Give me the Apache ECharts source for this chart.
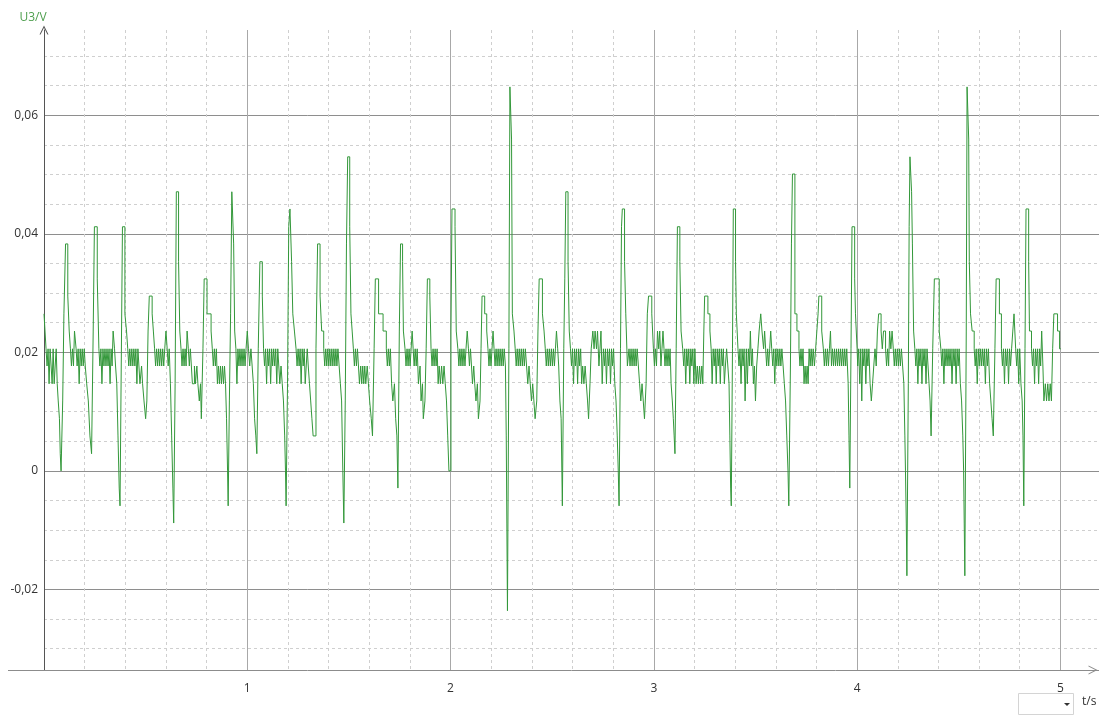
<!DOCTYPE html>
<html>
<head>
<meta charset="utf-8">
<script src="https://cdn.jsdelivr.net/npm/echarts@6/dist/echarts.min.js"></script>
<style>html,body{margin:0;padding:0;background:#fff;}#c{width:1099px;height:716px;}</style>
</head>
<body>
<div id="c"></div>
<script>
// U3 (V) samples: [t (s), U3 (V)], one array per second
const samples0 = [[0.000,0.0265],[0.005,0.0236],[0.010,0.0206],[0.015,0.0177],[0.020,0.0206],[0.025,0.0147],[0.030,0.0206],[0.035,0.0177],[0.040,0.0147],[0.045,0.0206],[0.050,0.0147],[0.055,0.0177],[0.060,0.0206],[0.065,0.0147],[0.070,0.0118],[0.076,0.0088],[0.080,0.0029],[0.084,0.0],[0.092,0.0118],[0.098,0.0265],[0.106,0.0383],[0.117,0.0295],[0.124,0.0236],[0.130,0.0206],[0.135,0.0177],[0.140,0.0206],[0.145,0.0177],[0.150,0.0236],[0.158,0.0206],[0.163,0.0177],[0.168,0.0206],[0.173,0.0147],[0.178,0.0206],[0.183,0.0177],[0.188,0.0206],[0.193,0.0177],[0.198,0.0206],[0.203,0.0177],[0.210,0.0147],[0.218,0.0118],[0.226,0.0059],[0.234,0.0029],[0.242,0.0236],[0.248,0.0412],[0.262,0.0324],[0.270,0.0206],[0.275,0.0177],[0.280,0.0206],[0.285,0.0147],[0.290,0.0206],[0.295,0.0177],
[0.300,0.0206],[0.305,0.0177],[0.310,0.0206],[0.315,0.0177],[0.320,0.0206],[0.325,0.0147],[0.330,0.0206],[0.335,0.0177],[0.340,0.0236],[0.347,0.0206],[0.352,0.0177],[0.358,0.0147],[0.364,0.0059],[0.370,-0.0029],[0.374,-0.0059],[0.380,0.0177],[0.386,0.0412],[0.398,0.0265],[0.406,0.0236],[0.412,0.0206],[0.417,0.0177],[0.422,0.0206],[0.427,0.0177],[0.432,0.0206],[0.437,0.0177],[0.442,0.0206],[0.447,0.0177],[0.452,0.0206],[0.457,0.0147],[0.462,0.0206],[0.467,0.0177],
[0.472,0.0147],[0.480,0.0177],[0.485,0.0147],[0.492,0.0118],[0.500,0.0088],[0.506,0.0118],[0.512,0.0236],[0.518,0.0295],[0.532,0.0265],[0.538,0.0236],[0.544,0.0206],[0.549,0.0177],[0.554,0.0206],[0.559,0.0177],[0.564,0.0206],[0.569,0.0177],[0.574,0.0206],[0.579,0.0177],[0.584,0.0206],[0.589,0.0177],[0.594,0.0206],[0.600,0.0236],[0.606,0.0206],[0.611,0.0177],[0.616,0.0206],[0.622,0.0147],[0.628,0.0059],[0.634,-0.0029],[0.638,-0.0088],[0.645,0.0147],[0.651,0.0471],[0.662,0.0353],[0.668,0.0236],[0.674,0.0206],[0.679,0.0177],[0.684,0.0206],[0.689,0.0177],[0.694,0.0206],[0.699,0.0177],[0.704,0.0236],[0.710,0.0206],[0.715,0.0177],[0.720,0.0206],[0.725,0.0177],[0.730,0.0147],[0.740,0.0177],[0.745,0.0147],[0.752,0.0177],[0.757,0.0147],[0.764,0.0118],[0.770,0.0147],[0.774,0.0088],[0.782,0.0206],[0.788,0.0324],[0.802,0.0265],
[0.822,0.0236],[0.828,0.0206],[0.833,0.0177],[0.838,0.0206],[0.843,0.0177],[0.848,0.0206],[0.853,0.0147],[0.858,0.0177],[0.863,0.0147],[0.868,0.0177],[0.873,0.0147],[0.878,0.0177],[0.883,0.0147],[0.888,0.0177],[0.893,0.0147],[0.898,0.0088],[0.903,0.0],[0.906,-0.0059],[0.912,0.0118],[0.918,0.0265],[0.924,0.0471],[0.933,0.0383],[0.938,0.0236],[0.944,0.0206],[0.949,0.0147],[0.954,0.0206],[0.959,0.0177],[0.964,0.0206],[0.969,0.0177],[0.974,0.0206],[0.979,0.0177],[0.984,0.0206],[0.989,0.0177],[0.994,0.0206]];
const samples1 = [[1.000,0.0236],[1.006,0.0206],[1.012,0.0177],[1.018,0.0206],[1.024,0.0177],[1.030,0.0147],[1.036,0.0088],[1.042,0.0059],[1.047,0.0029],[1.054,0.0206],[1.062,0.0353],[1.074,0.0295],[1.080,0.0206],
[1.085,0.0177],[1.090,0.0206],[1.095,0.0147],[1.100,0.0206],[1.105,0.0177],[1.110,0.0206],[1.115,0.0147],[1.120,0.0206],[1.125,0.0177],[1.130,0.0206],[1.135,0.0177],[1.140,0.0206],[1.145,0.0147],[1.150,0.0206],[1.155,0.0177],[1.160,0.0147],[1.166,0.0177],[1.172,0.0147],[1.178,0.0118],[1.184,0.0059],[1.188,0.0],[1.191,-0.0059],[1.198,0.0147],[1.204,0.0412],[1.210,0.0442],[1.218,0.0353],[1.224,0.0265],[1.232,0.0236],[1.240,0.0206],[1.245,0.0177],[1.250,0.0206],[1.255,0.0177],[1.260,0.0206],[1.265,0.0147],[1.270,0.0206],[1.275,0.0177],[1.280,0.0206],[1.285,0.0147],[1.290,0.0177],[1.295,0.0206],[1.300,0.0177],[1.306,0.0147],[1.312,0.0118],[1.318,0.0088],[1.324,0.0059],[1.338,0.0206],[1.346,0.0383],[1.358,0.0295],[1.366,0.0236],
[1.376,0.0206],[1.381,0.0177],[1.386,0.0206],[1.391,0.0177],[1.396,0.0206],[1.401,0.0177],[1.406,0.0206],[1.411,0.0177],[1.416,0.0206],[1.421,0.0177],[1.426,0.0206],[1.431,0.0177],[1.436,0.0206],[1.441,0.0177],[1.446,0.0206],[1.452,0.0177],[1.458,0.0147],[1.464,0.0118],[1.470,0.0],[1.475,-0.0088],[1.482,0.0118],[1.488,0.0383],[1.494,0.053],[1.504,0.0412],[1.510,0.0265],[1.516,0.0236],[1.522,0.0206],[1.527,0.0177],[1.532,0.0206],[1.537,0.0177],[1.542,0.0206],[1.547,0.0177],[1.552,0.0147],[1.558,0.0177],[1.563,0.0147],[1.568,0.0177],[1.573,0.0147],[1.578,0.0177],[1.583,0.0147],[1.590,0.0177],[1.596,0.0147],[1.602,0.0118],[1.610,0.0088],[1.616,0.0059],[1.624,0.0206],[1.630,0.0324],[1.646,0.0265],[1.668,0.0236],
[1.684,0.0206],[1.689,0.0177],[1.694,0.0206],[1.699,0.0177],[1.704,0.0206],[1.710,0.0147],[1.716,0.0118],[1.724,0.0147],[1.730,0.0088],[1.736,0.0059],[1.741,-0.0029],[1.748,0.0236],[1.754,0.0383],[1.764,0.0353],[1.768,0.0236],[1.776,0.0206],[1.781,0.0177],[1.786,0.0206],[1.791,0.0177],[1.796,0.0206],[1.801,0.0177],[1.806,0.0206],[1.811,0.0236],[1.816,0.0206],[1.821,0.0177],[1.826,0.0206],[1.831,0.0177],[1.836,0.0206],[1.842,0.0147],[1.850,0.0177],[1.855,0.0118],[1.862,0.0147],[1.866,0.0088],[1.874,0.0118],[1.880,0.0206],[1.886,0.0324],[1.898,0.0295],[1.904,0.0206],[1.909,0.0177],[1.914,0.0206],[1.919,0.0177],[1.924,0.0206],[1.929,0.0177],[1.934,0.0206],[1.939,0.0147],[1.944,0.0177],[1.950,0.0147],[1.956,0.0177],[1.962,0.0147],[1.968,0.0177],[1.974,0.0147],[1.980,0.0118],[1.986,0.0059],[1.992,0.0]];
const samples2 = [[2.002,0.0236],[2.007,0.0442],[2.022,0.0412],[2.028,0.0236],[2.036,0.0206],
[2.041,0.0177],[2.046,0.0206],[2.051,0.0177],[2.056,0.0206],[2.061,0.0177],[2.066,0.0206],[2.071,0.0177],[2.076,0.0206],[2.082,0.0236],[2.088,0.0206],[2.093,0.0177],[2.098,0.0206],[2.103,0.0177],[2.108,0.0147],[2.114,0.0177],[2.119,0.0147],[2.125,0.0118],[2.132,0.0147],[2.137,0.0088],[2.145,0.0118],[2.150,0.0206],[2.155,0.0295],[2.168,0.0265],[2.178,0.0236],[2.184,0.0206],[2.189,0.0177],[2.194,0.0206],[2.199,0.0177],[2.204,0.0206],[2.209,0.0236],[2.214,0.0206],[2.219,0.0177],[2.224,0.0206],[2.229,0.0177],[2.234,0.0206],[2.239,0.0177],[2.244,0.0206],[2.249,0.0177],[2.254,0.0206],[2.259,0.0177],[2.264,0.0206],[2.270,0.0177],[2.274,0.0059],[2.277,-0.0088],[2.280,-0.0236],[2.287,0.0206],[2.292,0.0648],[2.300,0.056],[2.304,0.0265],[2.312,0.0236],[2.318,0.0206],
[2.323,0.0177],[2.328,0.0206],[2.333,0.0177],[2.338,0.0206],[2.343,0.0177],[2.348,0.0206],[2.353,0.0177],[2.358,0.0206],[2.363,0.0177],[2.368,0.0206],[2.374,0.0177],[2.380,0.0147],[2.386,0.0177],[2.392,0.0147],[2.398,0.0118],[2.404,0.0147],[2.410,0.0118],[2.416,0.0088],[2.424,0.0118],[2.430,0.0236],[2.436,0.0324],[2.452,0.0265],[2.460,0.0236],[2.466,0.0206],[2.471,0.0177],[2.476,0.0206],[2.481,0.0177],[2.486,0.0206],[2.491,0.0177],[2.496,0.0206],[2.501,0.0177],[2.506,0.0206],[2.511,0.0177],[2.516,0.0206],[2.521,0.0236],[2.527,0.0206],[2.532,0.0177],[2.538,0.0118],[2.544,0.0088],[2.550,-0.0059],[2.557,0.0206],[2.562,0.0324],[2.567,0.0471],[2.578,0.0353],[2.584,0.0236],[2.590,0.0206],
[2.595,0.0177],[2.600,0.0206],[2.605,0.0147],[2.610,0.0206],[2.615,0.0177],[2.620,0.0206],[2.625,0.0147],[2.630,0.0206],[2.635,0.0177],[2.640,0.0206],[2.645,0.0147],[2.650,0.0177],[2.656,0.0147],[2.662,0.0177],[2.668,0.0147],[2.674,0.0118],[2.679,0.0088],[2.686,0.0147],[2.692,0.0206],[2.700,0.0236],[2.706,0.0206],[2.711,0.0236],[2.718,0.0206],[2.723,0.0236],[2.730,0.0177],[2.735,0.0206],[2.740,0.0236],[2.746,0.0147],[2.752,0.0206],[2.757,0.0177],[2.762,0.0206],[2.767,0.0147],[2.772,0.0206],[2.777,0.0177],[2.782,0.0206],[2.787,0.0147],[2.792,0.0206],[2.797,0.0177],[2.802,0.0206],[2.808,0.0147],[2.814,0.0118],[2.820,0.0059],[2.825,0.0],[2.829,-0.0059],[2.836,0.0206],[2.841,0.0412],[2.845,0.0442],[2.856,0.0353],[2.862,0.0265],[2.870,0.0177],[2.878,0.0206],
[2.883,0.0177],[2.888,0.0206],[2.893,0.0177],[2.898,0.0206],[2.903,0.0177],[2.908,0.0206],[2.913,0.0177],[2.918,0.0206],[2.924,0.0177],[2.930,0.0147],[2.936,0.0118],[2.942,0.0147],[2.948,0.0118],[2.954,0.0088],[2.962,0.0147],[2.968,0.0265],[2.974,0.0295],[2.990,0.0265],[2.998,0.0206]];
const samples3 = [[3.003,0.0177],[3.008,0.0206],[3.013,0.0177],[3.018,0.0236],[3.024,0.0206],[3.029,0.0236],[3.035,0.0177],[3.040,0.0206],[3.045,0.0236],[3.050,0.0206],[3.055,0.0177],[3.060,0.0206],[3.065,0.0177],[3.070,0.0206],[3.075,0.0177],[3.080,0.0206],[3.085,0.0147],[3.091,0.0118],[3.096,0.0088],[3.100,0.0059],[3.104,0.0029],[3.110,0.0206],[3.116,0.0412],[3.128,0.0353],[3.134,0.0236],[3.142,0.0206],
[3.147,0.0177],[3.152,0.0206],[3.157,0.0147],[3.162,0.0206],[3.167,0.0177],[3.172,0.0206],[3.177,0.0147],[3.182,0.0206],[3.187,0.0177],[3.192,0.0206],[3.197,0.0147],[3.202,0.0206],[3.208,0.0147],[3.214,0.0177],[3.219,0.0147],[3.225,0.0177],[3.230,0.0147],[3.236,0.0177],[3.241,0.0147],[3.246,0.0236],[3.250,0.0295],[3.266,0.0265],[3.276,0.0236],[3.282,0.0206],[3.287,0.0147],[3.292,0.0206],[3.297,0.0177],[3.302,0.0206],[3.307,0.0147],[3.312,0.0206],[3.317,0.0177],[3.322,0.0206],[3.327,0.0147],[3.332,0.0206],[3.337,0.0177],[3.342,0.0206],[3.347,0.0147],[3.352,0.0177],[3.358,0.0206],[3.364,0.0177],[3.370,0.0147],[3.374,0.0059],[3.378,-0.0029],[3.381,-0.0059],[3.387,0.0206],[3.391,0.0442],[3.402,0.0353],[3.406,0.0265],[3.414,0.0206],
[3.419,0.0177],[3.424,0.0206],[3.429,0.0147],[3.434,0.0206],[3.439,0.0177],[3.444,0.0206],[3.449,0.0118],[3.455,0.0206],[3.460,0.0147],[3.465,0.0206],[3.470,0.0177],[3.475,0.0236],[3.480,0.0177],[3.485,0.0206],[3.490,0.0147],[3.495,0.0177],[3.500,0.0118],[3.506,0.0177],[3.512,0.0206],[3.518,0.0236],[3.526,0.0265],[3.532,0.0236],[3.540,0.0206],[3.545,0.0236],[3.550,0.0206],[3.555,0.0177],[3.560,0.0206],[3.565,0.0177],[3.570,0.0206],[3.575,0.0236],[3.580,0.0206],[3.585,0.0177],[3.590,0.0206],[3.595,0.0147],[3.600,0.0206],[3.605,0.0177],[3.610,0.0206],[3.615,0.0177],[3.620,0.0206],[3.625,0.0177],[3.630,0.0206],[3.636,0.0177],[3.642,0.0147],[3.648,0.0118],[3.654,0.0059],[3.660,0.0],[3.664,-0.0059],[3.672,0.0177],[3.677,0.0383],[3.682,0.0501],[3.694,0.0265],[3.704,0.0236],[3.714,0.0206],
[3.719,0.0177],[3.724,0.0206],[3.729,0.0177],[3.734,0.0206],[3.739,0.0147],[3.744,0.0177],[3.749,0.0147],[3.754,0.0177],[3.759,0.0147],[3.764,0.0206],[3.769,0.0177],[3.774,0.0206],[3.779,0.0177],[3.784,0.0206],[3.790,0.0177],[3.796,0.0206],[3.802,0.0236],[3.808,0.0265],[3.812,0.0295],[3.826,0.0236],[3.834,0.0206],[3.839,0.0177],[3.844,0.0206],[3.849,0.0177],[3.854,0.0206],[3.859,0.0177],[3.864,0.0206],[3.869,0.0236],[3.874,0.0177],[3.879,0.0206],[3.884,0.0177],[3.889,0.0206],[3.894,0.0177],[3.899,0.0206],[3.904,0.0177],[3.909,0.0206],[3.914,0.0177],[3.919,0.0206],[3.924,0.0177],[3.929,0.0206],[3.934,0.0177],[3.939,0.0206],[3.944,0.0177],[3.949,0.0206],[3.956,0.0147],[3.960,0.0059],[3.964,-0.0029],[3.970,0.0206],[3.975,0.0412],[3.988,0.0324],[3.992,0.0265]];
const samples4 = [[4.000,0.0206],[4.003,0.0177],[4.008,0.0206],[4.013,0.0147],[4.018,0.0206],[4.023,0.0118],[4.028,0.0206],[4.033,0.0177],[4.038,0.0206],[4.043,0.0147],[4.048,0.0206],[4.053,0.0177],[4.058,0.0206],[4.064,0.0147],[4.070,0.0118],[4.076,0.0147],[4.082,0.0177],[4.088,0.0206],[4.094,0.0177],[4.100,0.0236],[4.106,0.0265],[4.118,0.0236],[4.124,0.0206],[4.130,0.0236],[4.140,0.0206],[4.145,0.0177],[4.150,0.0206],[4.155,0.0177],[4.160,0.0236],[4.166,0.0206],[4.172,0.0236],[4.178,0.0206],[4.183,0.0177],[4.188,0.0206],[4.193,0.0177],[4.198,0.0206],[4.203,0.0177],[4.208,0.0206],[4.213,0.0177],[4.218,0.0206],[4.224,0.0177],[4.230,0.0147],[4.235,0.0059],[4.238,0.0],[4.242,-0.0088],[4.245,-0.0177],[4.252,0.0147],[4.256,0.0412],[4.260,0.053],[4.268,0.0471],[4.272,0.0383],[4.278,0.0236],[4.284,0.0206],
[4.289,0.0177],[4.294,0.0206],[4.299,0.0147],[4.304,0.0206],[4.309,0.0177],[4.314,0.0206],[4.319,0.0147],[4.324,0.0206],[4.329,0.0177],[4.334,0.0206],[4.339,0.0147],[4.344,0.0206],[4.349,0.0177],[4.354,0.0147],[4.359,0.0118],[4.364,0.0059],[4.372,0.0206],[4.380,0.0324],[4.404,0.0236],[4.412,0.0206],[4.417,0.0177],[4.422,0.0206],[4.427,0.0147],[4.432,0.0206],[4.437,0.0177],[4.442,0.0206],[4.447,0.0177],[4.452,0.0206],[4.457,0.0177],[4.462,0.0206],[4.467,0.0147],[4.472,0.0206],[4.477,0.0177],[4.482,0.0206],[4.487,0.0147],[4.492,0.0206],[4.497,0.0177],[4.502,0.0206],[4.508,0.0147],[4.514,0.0118],[4.520,0.0059],[4.524,0.0],[4.527,-0.0088],[4.530,-0.0177],[4.537,0.0236],[4.541,0.0648],[4.549,0.056],[4.552,0.0353],[4.558,0.0265],[4.566,0.0236],[4.576,0.0206],
[4.581,0.0177],[4.586,0.0206],[4.591,0.0147],[4.596,0.0206],[4.601,0.0177],[4.606,0.0206],[4.611,0.0177],[4.616,0.0206],[4.621,0.0177],[4.626,0.0206],[4.631,0.0147],[4.636,0.0206],[4.641,0.0177],[4.646,0.0206],[4.652,0.0147],[4.658,0.0118],[4.664,0.0088],[4.670,0.0059],[4.678,0.0206],[4.684,0.0324],[4.700,0.0265],[4.710,0.0206],[4.715,0.0177],[4.720,0.0206],[4.725,0.0147],[4.730,0.0206],[4.735,0.0177],[4.740,0.0206],[4.745,0.0147],[4.750,0.0206],[4.755,0.0177],[4.760,0.0206],[4.766,0.0236],[4.772,0.0265],[4.780,0.0206],[4.785,0.0177],[4.790,0.0206],[4.795,0.0147],[4.800,0.0206],[4.806,0.0147],[4.812,0.0118],[4.816,0.0059],[4.820,-0.0059],[4.826,0.0206],[4.831,0.0442],[4.844,0.0353],[4.848,0.0236],[4.858,0.0206],
[4.863,0.0177],[4.868,0.0206],[4.873,0.0147],[4.878,0.0206],[4.883,0.0177],[4.888,0.0206],[4.893,0.0147],[4.898,0.0206],[4.903,0.0177],[4.908,0.0236],[4.914,0.0177],[4.919,0.0118],[4.926,0.0147],[4.932,0.0118],[4.938,0.0147],[4.944,0.0118],[4.950,0.0147],[4.956,0.0118],[4.962,0.0206],[4.968,0.0265],[4.986,0.0236],[4.996,0.0206],[5.002,0.0206]];

// Axis ranges and tick values
const xRange = [0, 5.19];
const yRange = [-0.0336, 0.0744];
const xMajorTicks = [1, 2, 3, 4, 5];
const xMinorTicks = [0.2, 0.4, 0.6, 0.8, 1.2, 1.4, 1.6, 1.8, 2.2, 2.4, 2.6, 2.8, 3.2, 3.4, 3.6, 3.8, 4.2, 4.4, 4.6, 4.8];
const yMajorTicks = [-0.02, 0, 0.02, 0.04, 0.06];
const yMinorTicks = [-0.03, -0.025, -0.015, -0.01, -0.005, 0.005, 0.01, 0.015, 0.025, 0.03, 0.035, 0.045, 0.05, 0.055, 0.065, 0.07];
const yAxisName = 'U3/V';
const xAxisName = 't/s';

const u3 = samples0.concat(samples1, samples2, samples3, samples4);

const chart = echarts.init(document.getElementById('c'), null, {renderer: 'canvas'});
const arrowPath = 'path://M0,10 L5,0 L10,10 L8.8,10 L5,2.4 L1.2,10 Z';
const fontFamily = '"Open Sans", "DejaVu Sans", sans-serif';

chart.setOption({
  animation: false,
  backgroundColor: '#ffffff',
  grid: {left: 44, right: 0, top: 30, bottom: 46, containLabel: false, outerBoundsMode: 'none'},
  xAxis: [
    {
      type: 'value', min: xRange[0], max: xRange[1],
      position: 'bottom',
      axisLine: {show: false}, axisTick: {show: false, customValues: xMinorTicks}, axisLabel: {show: false},
      splitLine: {show: true, lineStyle: {color: '#cfcfcf', width: 1, type: [3, 3]}}
    },
    {
      type: 'value', min: xRange[0], max: xRange[1],
      position: 'bottom',
      axisLine: {show: true, onZero: false, lineStyle: {color: '#8c8c8c', width: 1},
        symbol: ['none', arrowPath], symbolSize: [9, 9], symbolOffset: [0, -6]},
      axisTick: {show: false, customValues: xMajorTicks},
      axisLabel: {show: true, customValues: xMajorTicks, margin: 13, color: '#333', fontSize: 12, fontFamily: fontFamily},
      splitLine: {show: true, lineStyle: {color: '#a8a8a8', width: 1, type: 'solid'}}
    }
  ],
  yAxis: [
    {
      type: 'value', min: yRange[0], max: yRange[1], position: 'left',
      axisLine: {show: false},
      axisTick: {show: false, customValues: yMinorTicks},
      axisLabel: {show: false},
      splitLine: {show: true, lineStyle: {color: '#cfcfcf', width: 1, type: [3, 3]}}
    },
    {
      type: 'value', min: yRange[0], max: yRange[1], position: 'left', offset: 0,
      name: yAxisName, nameLocation: 'end', nameGap: 6,
      nameTextStyle: {color: '#4f9f4f', fontSize: 12, fontFamily: fontFamily, align: 'center', padding: [0, 22, 0, 0]},
      axisLine: {show: true, onZero: false, lineStyle: {color: '#555', width: 1},
        symbol: ['none', arrowPath], symbolSize: [9, 9], symbolOffset: [0, 0]},
      axisTick: {show: false, customValues: yMajorTicks},
      axisLabel: {show: true, customValues: yMajorTicks, margin: 6, color: '#333', fontSize: 12, fontFamily: fontFamily,
        formatter: v => String(v).replace('.', ',')},
      splitLine: {show: true, lineStyle: {color: '#8e8e8e', width: 1, type: 'solid'}}
    }
  ],
  series: [{
    type: 'line',
    xAxisIndex: 0, yAxisIndex: 0,
    data: u3,
    step: 'end',
    showSymbol: false,
    symbol: 'none',
    lineStyle: {color: '#33983a', width: 1},
    z: 5
  }],
  graphic: [
    {type: 'line', shape: {x1: 8, y1: 670.5, x2: 44, y2: 670.5}, style: {stroke: '#8c8c8c', lineWidth: 1}},
    {type: 'rect', left: 1018, top: 693, shape: {width: 55, height: 21}, style: {fill: '#fff', stroke: '#d4d4d4', lineWidth: 1}},
    {type: 'polygon', shape: {points: [[1064, 703], [1070, 703], [1067, 706]]}, style: {fill: '#333'}},
    {type: 'text', left: 1082, top: 696, style: {text: xAxisName, fill: '#333', font: '12px "Open Sans", "DejaVu Sans", sans-serif'}}
  ]
});
</script>
</body>
</html>
